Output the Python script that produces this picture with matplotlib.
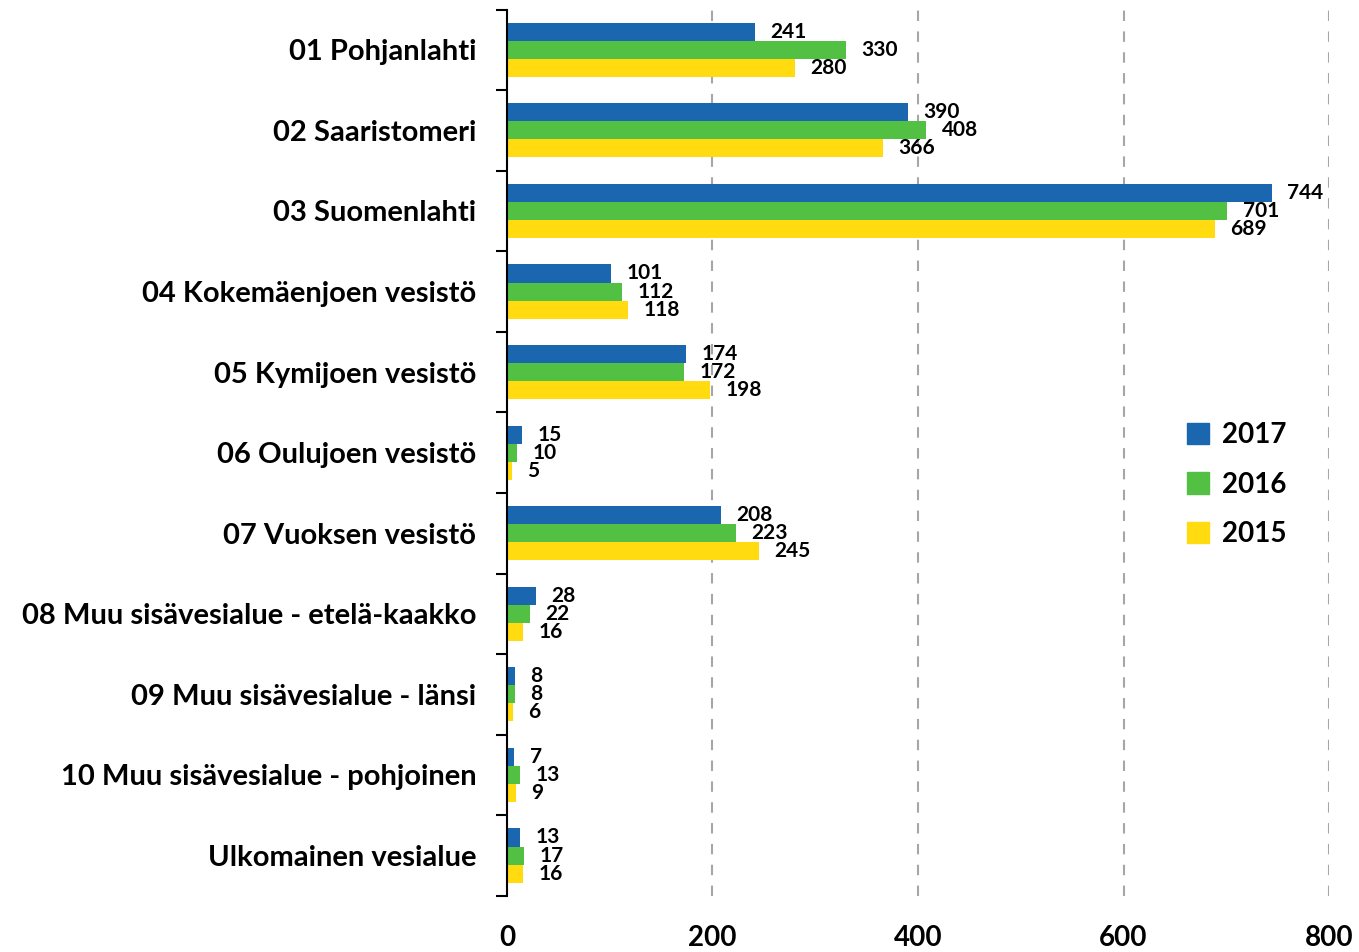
import numpy as np
import matplotlib
matplotlib.use('Agg')
from matplotlib import pyplot as plt
from matplotlib.patches import Patch

plt.rcParams['font.family'] = ['Lato', 'DejaVu Sans']
plt.rcParams['font.weight'] = 'bold'

alueet = ['01 Pohjanlahti', '02 Saaristomeri', '03 Suomenlahti',
          '04 Kokemäenjoen vesistö', '05 Kymijoen vesistö',
          '06 Oulujoen vesistö', '07 Vuoksen vesistö',
          '08 Muu sisävesialue - etelä-kaakko',
          '09 Muu sisävesialue - länsi',
          '10 Muu sisävesialue - pohjoinen', 'Ulkomainen vesialue']
v2017 = [241, 390, 744, 101, 174, 15, 208, 28, 8, 7, 13]
v2016 = [330, 408, 701, 112, 172, 10, 223, 22, 8, 13, 17]
v2015 = [280, 366, 689, 118, 198, 5, 245, 16, 6, 9, 16]
vuodet = ['2017', '2016', '2015']
varit = ['#1a67b0', '#52c043', '#ffdb0f']

fig = plt.figure(figsize=(13.59, 9.52), dpi=100)
ax = fig.add_axes([0.373, 0.059, 0.605, 0.931])

y = np.arange(len(alueet))
h = 0.224
sarjat = [v2017, v2016, v2015]
for k in range(3):
    yy = y + (k - 1) * h
    ax.barh(yy, sarjat[k], height=h, color=varit[k], zorder=3)
    for i in range(len(alueet)):
        ax.text(sarjat[k][i] + 15, yy[i], str(sarjat[k][i]), va='center',
                ha='left', fontsize=15, fontweight='bold', zorder=4)

ax.set_xlim(0, 800)
ax.set_ylim(len(alueet) - 0.5, -0.5)
ax.set_yticks(y)
ax.set_yticklabels(alueet, fontsize=21, fontweight='bold')
ax.set_yticks(np.arange(-0.5, len(alueet), 1.0), minor=True)
ax.tick_params(axis='y', which='major', length=0, pad=22)
ax.tick_params(axis='y', which='minor', length=8, width=1.5, direction='out')
ax.set_xticks([0, 200, 400, 600, 800])
ax.set_xticklabels(['0', '200', '400', '600', '800'], fontsize=20, fontweight='bold')
ax.tick_params(axis='x', length=0, pad=21)
ax.xaxis.grid(True, linestyle=(0, (5, 5)), color='#a6a6a6', linewidth=1.5, zorder=0)
for s in ['top', 'right', 'bottom']:
    ax.spines[s].set_visible(False)
ax.spines['left'].set_linewidth(1.5)
ax.spines['left'].set_zorder(5)

handles = [Patch(color=varit[k], label=vuodet[k]) for k in range(3)]
ax.legend(handles=handles, loc='center left', bbox_to_anchor=(0.797, 0.464),
          frameon=False, handlelength=0.8, handleheight=0.8,
          handletextpad=0.45, labelspacing=0.85, prop={'weight': 'bold', 'size': 20})

plt.savefig('out.png', dpi=100)
